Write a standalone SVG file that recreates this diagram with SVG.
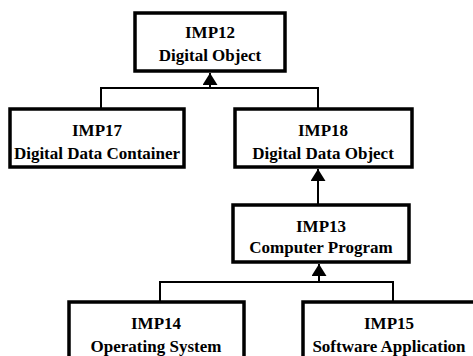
<svg xmlns="http://www.w3.org/2000/svg" width="473" height="356" viewBox="0 0 473 356">
<style>
.box{fill:#fff;stroke:#000;stroke-width:3.5}
.t{font-family:'Liberation Serif','Times New Roman',serif;font-weight:700;font-size:17px;text-anchor:middle;fill:#000}
.c{fill:none;stroke:#000;stroke-width:2}
</style>
<defs>
<marker id="tri" viewBox="0 0 12 15" refX="12" refY="7.5" markerWidth="12" markerHeight="15" markerUnits="userSpaceOnUse" orient="auto">
<path d="M0,0 L12,7.5 L0,15 Z" fill="#000"/>
</marker>
</defs>
<rect width="473" height="356" fill="#fff"/>
<g id="connectors">
<polyline class="c" points="101,108 101,88 318,88 318,108"/>
<line class="c" x1="210" y1="88" x2="210" y2="73" marker-end="url(#tri)"/>
<line class="c" x1="318" y1="204" x2="318" y2="169" marker-end="url(#tri)"/>
<polyline class="c" points="160,301 160,282 393,282 393,301"/>
<line class="c" x1="319" y1="282" x2="319" y2="264" marker-end="url(#tri)"/>
</g>
<g id="IMP12"><rect class="box" x="135" y="13" width="150" height="58"/><text class="t" x="210" y="38">IMP12</text><text class="t" x="210" y="61">Digital Object</text></g>
<g id="IMP17"><rect class="box" x="10" y="109" width="174" height="58"/><text class="t" x="97" y="136">IMP17</text><text class="t" x="97" y="159">Digital Data Container</text></g>
<g id="IMP18"><rect class="box" x="235" y="109" width="177" height="58"/><text class="t" x="323" y="136">IMP18</text><text class="t" x="323" y="159">Digital Data Object</text></g>
<g id="IMP13"><rect class="box" x="233" y="205" width="176" height="57"/><text class="t" x="321" y="232">IMP13</text><text class="t" x="321" y="253">Computer Program</text></g>
<g id="IMP14"><rect class="box" x="69" y="302" width="175" height="60"/><text class="t" x="156" y="329">IMP14</text><text class="t" x="156" y="352">Operating System</text></g>
<g id="IMP15"><rect class="box" x="303" y="302" width="174" height="60"/><text class="t" x="389" y="329">IMP15</text><text class="t" x="389" y="352">Software Application</text></g>
</svg>
